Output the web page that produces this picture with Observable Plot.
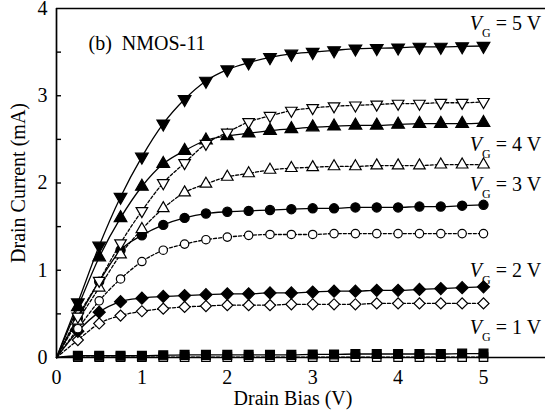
<!DOCTYPE html>
<html>
<head>
<meta charset="utf-8">
<script src="https://cdn.jsdelivr.net/npm/d3@7"></script>
<script src="https://cdn.jsdelivr.net/npm/@observablehq/plot@0.6"></script>
<style>
  body { margin: 0; background: #fff; }
</style>
</head>
<body>
<div id="chart"></div>
<script>
// Drain bias sweep (V)
const drainBias = [0, 0.25, 0.5, 0.75, 1, 1.25, 1.5, 1.75, 2, 2.25, 2.5, 2.75, 3, 3.25, 3.5, 3.75, 4, 4.25, 4.5, 4.75, 5];

// Drain current (mA) per gate voltage, filled = solid line, open = dashed line
const vg5Filled = [0, 0.63, 1.28, 1.84, 2.30, 2.68, 2.96, 3.17, 3.30, 3.38, 3.44, 3.48, 3.50, 3.52, 3.54, 3.545, 3.55, 3.56, 3.56, 3.565, 3.57];
const vg5Open   = [0, 0.47, 0.88, 1.31, 1.68, 2.00, 2.23, 2.45, 2.58, 2.70, 2.77, 2.83, 2.86, 2.88, 2.89, 2.90, 2.91, 2.91, 2.92, 2.92, 2.93];
const vg4Filled = [0, 0.58, 1.15, 1.60, 1.96, 2.22, 2.37, 2.49, 2.54, 2.57, 2.60, 2.62, 2.64, 2.65, 2.66, 2.66, 2.67, 2.68, 2.68, 2.68, 2.69];
const vg4Open   = [0, 0.42, 0.80, 1.18, 1.47, 1.71, 1.89, 1.99, 2.07, 2.11, 2.15, 2.17, 2.18, 2.19, 2.19, 2.20, 2.20, 2.20, 2.21, 2.21, 2.21];
const vg3Filled = [0, 0.45, 0.87, 1.23, 1.40, 1.52, 1.60, 1.65, 1.67, 1.68, 1.69, 1.70, 1.71, 1.71, 1.72, 1.72, 1.72, 1.73, 1.73, 1.74, 1.75];
const vg3Open   = [0, 0.33, 0.65, 0.90, 1.10, 1.23, 1.30, 1.35, 1.38, 1.40, 1.41, 1.41, 1.41, 1.42, 1.42, 1.42, 1.42, 1.42, 1.42, 1.42, 1.42];
const vg2Filled = [0, 0.30, 0.52, 0.64, 0.68, 0.70, 0.71, 0.72, 0.73, 0.73, 0.74, 0.74, 0.75, 0.76, 0.76, 0.77, 0.77, 0.78, 0.79, 0.80, 0.81];
const vg2Open   = [0, 0.20, 0.39, 0.48, 0.53, 0.56, 0.58, 0.59, 0.60, 0.60, 0.60, 0.61, 0.61, 0.61, 0.61, 0.62, 0.62, 0.62, 0.62, 0.62, 0.62];
const vg1Filled = [0, 0.02, 0.02, 0.02, 0.02, 0.025, 0.03, 0.03, 0.03, 0.03, 0.03, 0.03, 0.035, 0.035, 0.04, 0.04, 0.04, 0.04, 0.04, 0.045, 0.045];
const vg1Open   = [0, 0.005, 0.005, 0.005, 0.005, 0.005, 0.005, 0.005, 0.005, 0.005, 0.005, 0.005, 0.005, 0.005, 0.005, 0.005, 0.005, 0.005, 0.005, 0.005, 0.005];

// Gate-voltage annotations and the current level (mA) they sit at
const gateVoltages = [5, 4, 3, 2, 1];
const gateLabelLevel = [3.83, 2.44, 1.98, 1.00, 0.34];

// Axis ticks
const xTickLabels = [0, 1, 2, 3, 4, 5];
const yTickLabels = [0, 1, 2, 3, 4];
const yMinorTicks = [0.5, 1, 1.5, 2, 2.5, 3, 3.5];

const series = [
  {values: vg1Open,   symbol: "square",   r: 4.8, rotate: 0,   filled: false, dashed: true},
  {values: vg1Filled, symbol: "square",   r: 5.0, rotate: 0,   filled: true,  dashed: false},
  {values: vg2Open,   symbol: "square",   r: 4.4, rotate: 45,  filled: false, dashed: true},
  {values: vg2Filled, symbol: "square",   r: 4.8, rotate: 45,  filled: true,  dashed: false},
  {values: vg3Open,   symbol: "circle",   r: 4.2, rotate: 0,   filled: false, dashed: true},
  {values: vg3Filled, symbol: "circle",   r: 4.6, rotate: 0,   filled: true,  dashed: false},
  {values: vg4Open,   symbol: "triangle", r: 4.3, rotate: 0,   filled: false, dashed: true},
  {values: vg4Filled, symbol: "triangle", r: 4.7, rotate: 0,   filled: true,  dashed: false},
  {values: vg5Open,   symbol: "triangle", r: 4.3, rotate: 180, filled: false, dashed: true},
  {values: vg5Filled, symbol: "triangle", r: 4.7, rotate: 180, filled: true,  dashed: false}
];

const rowsOf = s => drainBias.map((x, i) => ({x, y: s.values[i]}));

const lineMarks = series.map(s => Plot.line(rowsOf(s), {
  x: "x", y: "y", curve: "monotone-x",
  stroke: "black", strokeWidth: 1.3,
  strokeDasharray: s.dashed ? "3,2" : null
}));

const dotMarks = series.map(s => Plot.dot(rowsOf(s).filter(d => d.x > 0), {
  x: "x", y: "y", symbol: s.symbol, r: s.r, rotate: s.rotate,
  fill: s.filled ? "black" : "white", stroke: "black", strokeWidth: 1.2
}));

const gateRows = gateVoltages.map((v, i) => ({label: `VG = ${v} V`, y: gateLabelLevel[i]}));

const W = 545, H = 417, ML = 56, MR = 0, MT = 8, MB = 60;

const chart = Plot.plot({
  width: W,
  height: H,
  marginLeft: ML,
  marginRight: MR,
  marginTop: MT,
  marginBottom: MB,
  x: {domain: [0, 5.726]},
  y: {domain: [0, 4]},
  style: {fontFamily: "'Liberation Serif', 'Times New Roman', serif", fontSize: "20px", background: "white", color: "black"},
  marks: [
    // frame lines
    Plot.ruleY([0, 4], {stroke: "black", strokeWidth: 1.7}),
    Plot.ruleX([0], {stroke: "black", strokeWidth: 1.7}),
    // short inward ticks on the left axis
    Plot.ruleY(yMinorTicks, {stroke: "black", strokeWidth: 1.4, insetRight: W - ML - MR - 5}),
    // tick labels and axis titles
    Plot.axisY(yTickLabels, {
      tickSize: 0, tickPadding: 9, tickFormat: "d", fontSize: 20,
      label: "Drain Current (mA)", labelAnchor: "center", labelOffset: 46, labelArrow: "none"
    }),
    Plot.axisX(xTickLabels, {tickSize: 0, tickPadding: 12, tickFormat: "d", label: null, fontSize: 20}),
    Plot.text(["Drain Bias (V)"], {frameAnchor: "bottom", dx: -8, dy: 47, fontSize: 20}),
    Plot.text(["(b)\u00a0 NMOS-11"], {frameAnchor: "top-left", textAnchor: "start", dx: 32, dy: 27, fontSize: 20}),
    ...lineMarks,
    ...dotMarks,
    Plot.text(gateRows, {x: () => 4.84, y: "y", text: "label", textAnchor: "start", fontSize: 20})
  ]
});

// Italic V with subscript G in the gate-voltage annotations
const ns = "http://www.w3.org/2000/svg";
chart.querySelectorAll("text").forEach(t => {
  const m = /^VG = (\d) V$/.exec(t.textContent);
  if (!m) return;
  t.textContent = "";
  const v = document.createElementNS(ns, "tspan");
  v.setAttribute("font-style", "italic");
  v.textContent = "V";
  const g = document.createElementNS(ns, "tspan");
  g.setAttribute("font-size", "12");
  g.setAttribute("dy", "7");
  g.textContent = "G";
  const rest = document.createElementNS(ns, "tspan");
  rest.setAttribute("dy", "-7");
  rest.textContent = `\u00a0= ${m[1]} V`;
  t.append(v, g, rest);
});

document.getElementById("chart").append(chart);
</script>
</body>
</html>
